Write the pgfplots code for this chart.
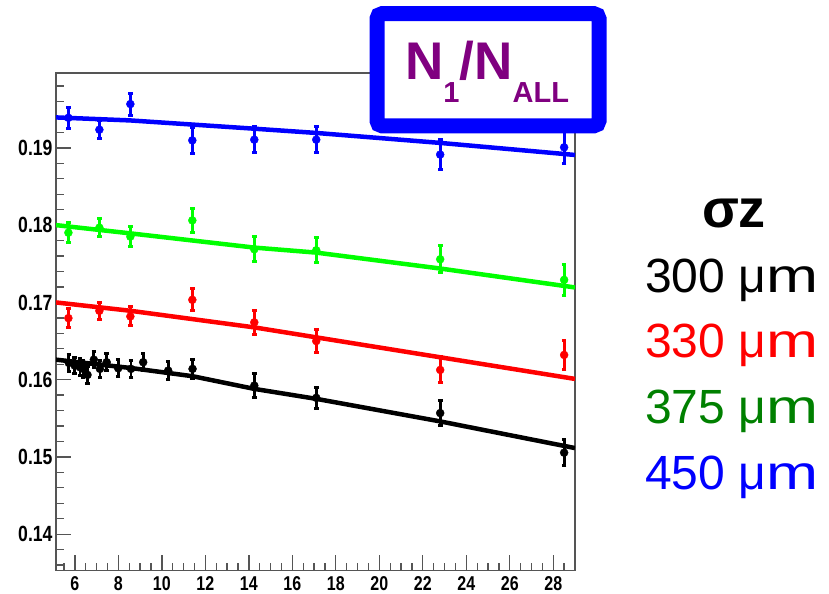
\documentclass[border=0pt]{standalone}
\usepackage{pgfplots}
\pgfplotsset{compat=1.18}
\usepackage{fontspec}
\setmainfont{Liberation Sans}
\newfontfamily\tickfont{Liberation Sans}[FakeStretch=0.8]

\definecolor{framegray}{RGB}{85,85,85}
\definecolor{titlepurple}{RGB}{128,0,128}
\definecolor{ptgreen}{RGB}{0,255,0}
\definecolor{txtgreen}{RGB}{0,128,0}

% measured ratios N1/NALL versus x, with statistical errors
\pgfplotstableread{
x      y        e
5.72   0.16217  0.00107
5.99   0.16182  0.00107
6.23   0.16161  0.00107
6.38   0.16140  0.00107
6.58   0.16062  0.00107
6.87   0.16259  0.00107
7.15   0.16140  0.00107
7.46   0.16226  0.00107
7.99   0.16148  0.00107
8.58   0.16140  0.00107
9.14   0.16226  0.00107
10.29  0.16118  0.00115
11.41  0.16140  0.00120
14.25  0.15924  0.00150
17.10  0.15765  0.00140
22.80  0.15568  0.00160
28.50  0.15055  0.00170
}\dataA
\pgfplotstableread{
x      y        e
5.70   0.16797  0.00123
7.125  0.16892  0.00107
8.55   0.16819  0.00123
11.40  0.17034  0.00142
14.25  0.16742  0.00155
17.10  0.16500  0.00146
22.80  0.16126  0.00168
28.50  0.16320  0.00187
}\dataB
\pgfplotstableread{
x      y        e
5.70   0.17903  0.00130
7.125  0.17968  0.00116
8.55   0.17852  0.00130
11.40  0.18062  0.00160
14.25  0.17688  0.00160
17.10  0.17675  0.00160
22.80  0.17559  0.00177
28.50  0.17292  0.00200
}\dataC
\pgfplotstableread{
x      y        e
5.70   0.19390  0.00135
7.125  0.19236  0.00117
8.55   0.19568  0.00142
11.40  0.19098  0.00168
14.25  0.19107  0.00168
17.10  0.19107  0.00172
22.80  0.18914  0.00194
28.50  0.19008  0.00206
}\dataD

\pgfplotsset{
  pts/.style={only marks, mark=*, mark size=4bp, #1,
    mark options={solid, fill=#1, draw=#1},
    error bars/.cd, y dir=both, y explicit,
    error bar style={line width=2.8bp, #1},
    error mark options={rotate=90, mark size=2.3bp, line width=3bp, #1}},
  fit/.style={no marks, line width=4.5bp, #1},
}
\newcommand\um{μ\scalebox{1.3}[1]{m}}

\begin{document}
\begin{tikzpicture}
\path[use as bounding box] (0,0) rectangle (829bp,594bp);
\begin{axis}[
  at={(56bp,23.5bp)}, anchor=south west,
  scale only axis, width=519bp, height=497.5bp,
  xmin=5.13, xmax=29.0, ymin=0.1353, ymax=0.1997,
  xtick={4,6,...,30}, ytick={0.13,0.14,0.15,0.16,0.17,0.18,0.19,0.2},
  minor x tick num=3, minor y tick num=4,
  tick pos=left, tick align=inside,
  major tick length=15bp, minor tick length=7.5bp,
  axis line style={framegray, line width=1.3bp},
  every tick/.style={framegray, line width=1.3bp},
  ticklabel style={font=\tickfont\bfseries\fontsize{22bp}{22bp}\selectfont, text=black},
  /pgf/number format/assume math mode=true,
  yticklabel={\pgfmathprintnumber[fixed, precision=2, fixed zerofill]{\tick}},
  xticklabel={\pgfmathprintnumber[fixed, precision=0]{\tick}},
  xticklabel style={font=\tickfont\bfseries\fontsize{20bp}{20bp}\selectfont, inner sep=1bp, yshift=-5bp},
  clip=true,
]
% 300 um
\addplot[pts=black] table[x=x, y=y, y error=e] {\dataA};
\addplot[fit=black] coordinates {(5.13,0.16259) (8.55,0.16152) (11.41,0.16045) (14.25,0.15881) (17.1,0.15752) (22.8,0.15460) (29.0,0.15115)};
% 330 um
\addplot[pts=red] table[x=x, y=y, y error=e] {\dataB};
\addplot[fit=red] coordinates {(5.13,0.17000) (8.55,0.16892) (14.25,0.16677) (17.1,0.16548) (22.8,0.16290) (29.0,0.16010)};
% 375 um
\addplot[pts=ptgreen] table[x=x, y=y, y error=e] {\dataC};
\addplot[fit=ptgreen] coordinates {(5.13,0.18001) (8.55,0.17894) (14.25,0.17710) (17.1,0.17645) (22.8,0.17439) (29.0,0.17194)};
% 450 um
\addplot[pts=blue] table[x=x, y=y, y error=e] {\dataD};
\addplot[fit=blue] coordinates {(5.13,0.19395) (8.55,0.19356) (14.25,0.19249) (17.1,0.19194) (22.8,0.19065) (29.0,0.18909)};
\end{axis}

% title box
\draw[line width=15bp, blue, fill=white, rounded corners=5bp] (377bp,580.3bp) rectangle (599bp,468.2bp);
\node[anchor=base west, inner sep=0pt, text=titlepurple] at (405bp,514bp)
  {\fontsize{53bp}{53bp}\selectfont\bfseries N\raisebox{-22.7bp}{\fontsize{29bp}{29bp}\selectfont 1}/N\raisebox{-22.7bp}{\fontsize{29bp}{29bp}\selectfont ALL}};

% legend of the four resolutions
\node[anchor=base, inner sep=0pt] at (734bp,366bp) {\fontsize{54bp}{54bp}\selectfont\bfseries σz};
\node[anchor=base west, inner sep=0pt, text=black]    at (645bp,301.3bp) {\fontsize{48bp}{48bp}\selectfont 300 \um};
\node[anchor=base west, inner sep=0pt, text=red]      at (645bp,236bp)   {\fontsize{48bp}{48bp}\selectfont 330 \um};
\node[anchor=base west, inner sep=0pt, text=txtgreen] at (645bp,170bp)   {\fontsize{48bp}{48bp}\selectfont 375 \um};
\node[anchor=base west, inner sep=0pt, text=blue]     at (645bp,104bp)   {\fontsize{48bp}{48bp}\selectfont 450 \um};
\end{tikzpicture}
\end{document}
